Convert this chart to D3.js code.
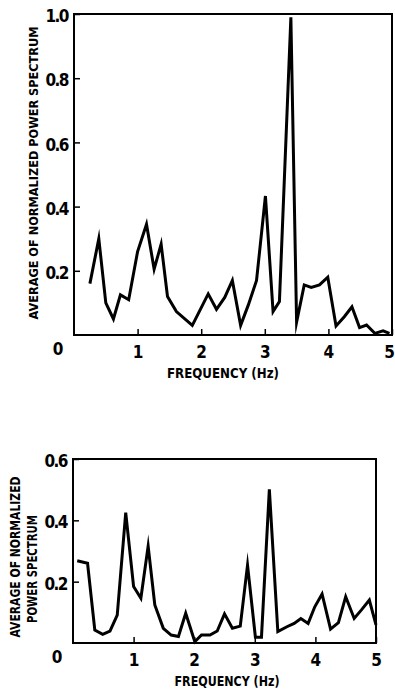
<!DOCTYPE html>
<html>
<head>
<meta charset="utf-8">
<script src="https://cdn.jsdelivr.net/npm/d3@7"></script>
<style>
  body { margin: 0; background: #fff; }
  svg { display: block; }
  text { font-family: "DejaVu Sans Condensed", "DejaVu Sans", sans-serif; fill: #000; }
</style>
</head>
<body>
<div id="chart"></div>
<script>
// upper panel
const topFreq = [0.25, 0.39, 0.5, 0.62, 0.73, 0.86, 1.0, 1.14, 1.26, 1.37, 1.47, 1.61, 1.86,
  2.11, 2.24, 2.37, 2.49, 2.62, 2.74, 2.87, 3.01, 3.13, 3.23, 3.41, 3.5, 3.62, 3.73, 3.86,
  3.99, 4.12, 4.25, 4.37, 4.49, 4.6, 4.73, 4.86, 4.96];
const topPower = [0.16, 0.30, 0.10, 0.05, 0.125, 0.11, 0.26, 0.345, 0.205, 0.283, 0.12, 0.073, 0.03,
  0.128, 0.08, 0.117, 0.17, 0.03, 0.093, 0.17, 0.433, 0.073, 0.104, 0.99, 0.04, 0.156, 0.148, 0.156,
  0.18, 0.028, 0.057, 0.088, 0.023, 0.031, 0.005, 0.013, 0.005];
const topYTicks = [0.2, 0.4, 0.6, 0.8, 1.0];

// lower panel
const botFreq = [0.07, 0.24, 0.36, 0.49, 0.61, 0.73, 0.87, 1.0, 1.12, 1.24, 1.35, 1.49, 1.62, 1.74,
  1.86, 2.01, 2.12, 2.26, 2.38, 2.5, 2.63, 2.76, 2.88, 3.01, 3.11, 3.24, 3.38, 3.53, 3.65, 3.76,
  3.88, 3.99, 4.11, 4.25, 4.38, 4.5, 4.64, 4.76, 4.89, 5.0];
const botPower = [0.268, 0.26, 0.042, 0.028, 0.039, 0.091, 0.425, 0.184, 0.146, 0.316, 0.124, 0.048,
  0.026, 0.021, 0.097, 0.004, 0.026, 0.026, 0.039, 0.095, 0.048, 0.055, 0.254, 0.019, 0.019, 0.501,
  0.037, 0.053, 0.064, 0.08, 0.064, 0.118, 0.16, 0.045, 0.066, 0.151, 0.08, 0.108, 0.14, 0.059];
const botYTicks = [0.2, 0.4, 0.6];

const xTicks = [1, 2, 3, 4, 5];
const xTitle = 'FREQUENCY (Hz)';

const width = 395;
const height = 694;

const svg = d3.select('#chart')
    .append('svg')
    .attr('width', width)
    .attr('height', height);

function drawPanel(opts)
{
    const data = opts.freq.map((f, i) => ({ f: f, v: opts.power[i] }));

    const xScale = d3.scaleLinear().domain([0, 5]).range([opts.left, opts.right]);
    const yScale = d3.scaleLinear().domain([0, opts.yMax]).range([opts.bottom, opts.top]);

    const g = svg.append('g');

    // frame
    g.append('rect')
        .attr('x', opts.left)
        .attr('y', opts.top)
        .attr('width', opts.right - opts.left)
        .attr('height', opts.bottom - opts.top)
        .attr('fill', 'none')
        .attr('stroke', '#000')
        .attr('stroke-width', 2);

    // x axis, ticks pointing inward
    const xAxis = d3.axisBottom(xScale)
        .tickValues(xTicks)
        .tickSizeInner(-6)
        .tickSizeOuter(0)
        .tickPadding(9)
        .tickFormat(d3.format('d'));
    const gx = g.append('g')
        .attr('transform', `translate(0, ${opts.bottom})`)
        .call(xAxis);
    gx.select('.domain').remove();
    gx.selectAll('line').attr('stroke', '#000').attr('stroke-width', 1.5);
    gx.selectAll('text')
        .attr('font-size', 17)
        .attr('font-weight', 'bold')
        .attr('dy', '0.8em')
        .attr('dx', d => (d === 5 ? opts.lastTickShift : 0));

    // y axis
    const yAxis = d3.axisLeft(yScale)
        .tickValues(opts.yTicks)
        .tickSizeInner(-6)
        .tickSizeOuter(0)
        .tickPadding(6)
        .tickFormat(d3.format('.1f'));
    const gy = g.append('g')
        .attr('transform', `translate(${opts.left}, 0)`)
        .call(yAxis);
    gy.select('.domain').remove();
    gy.selectAll('line').attr('stroke', '#000').attr('stroke-width', 1.5);
    gy.selectAll('text')
        .attr('font-size', 17)
        .attr('font-weight', 'bold')
        .attr('letter-spacing', -1.5)
        .attr('dy', '0.45em');

    // shared origin label
    g.append('text')
        .attr('x', opts.left - 16)
        .attr('y', opts.bottom + 20)
        .attr('text-anchor', 'middle')
        .attr('font-size', 17)
        .attr('font-weight', 'bold')
        .text('0');

    // data line
    const line = d3.line()
        .x(d => xScale(d.f))
        .y(d => yScale(d.v));
    g.append('path')
        .datum(data)
        .attr('d', line)
        .attr('fill', 'none')
        .attr('stroke', '#000')
        .attr('stroke-width', 3)
        .attr('stroke-linejoin', 'miter')
        .attr('stroke-miterlimit', 10);

    // x title
    g.append('text')
        .attr('x', opts.xTitleX)
        .attr('y', opts.xTitleY)
        .attr('text-anchor', 'middle')
        .attr('font-size', 14)
        .attr('font-weight', 'bold')
        .attr('textLength', opts.xTitleLen)
        .attr('lengthAdjust', 'spacingAndGlyphs')
        .text(xTitle);

    // y title lines
    opts.yTitles.forEach(t => {
        g.append('text')
            .attr('transform', `translate(${t.x}, ${t.y}) rotate(-90)`)
            .attr('text-anchor', 'middle')
            .attr('font-size', t.size)
            .attr('font-weight', 'bold')
            .attr('textLength', t.len)
            .attr('lengthAdjust', 'spacingAndGlyphs')
            .text(t.text);
    });
}

drawPanel({
    freq: topFreq, power: topPower, yTicks: topYTicks, yMax: 1.0,
    left: 74, right: 392, top: 14, bottom: 335, lastTickShift: -3,
    xTitleX: 223, xTitleY: 378, xTitleLen: 112,
    yTitles: [{ text: 'AVERAGE OF NORMALIZED POWER SPECTRUM', x: 38, y: 173, len: 293, size: 13 }]
});

drawPanel({
    freq: botFreq, power: botPower, yTicks: botYTicks, yMax: 0.6,
    left: 73, right: 376, top: 459, bottom: 643, lastTickShift: 0,
    xTitleX: 227, xTitleY: 686, xTitleLen: 105,
    yTitles: [
        { text: 'AVERAGE OF NORMALIZED', x: 20, y: 557, len: 161, size: 14 },
        { text: 'POWER SPECTRUM', x: 37, y: 569, len: 108, size: 14 }
    ]
});
</script>
</body>
</html>
